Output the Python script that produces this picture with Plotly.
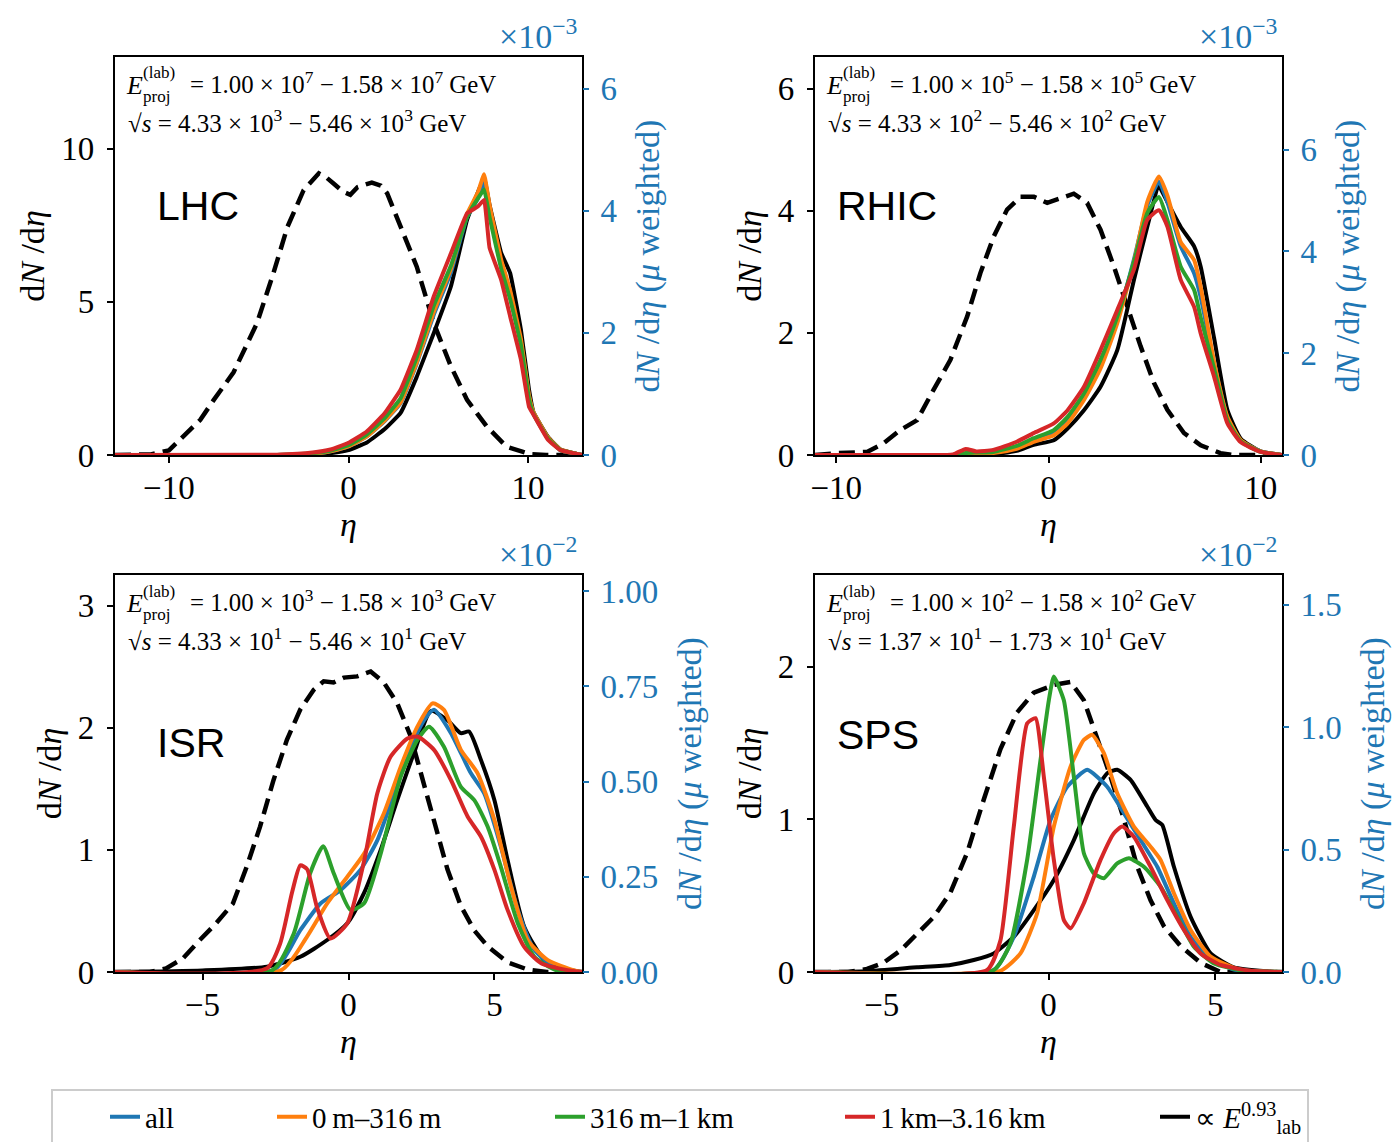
import plotly.graph_objects as go

W, H = 1394, 1142
SERIF = "Liberation Serif, Times New Roman, serif"
SANS = "Liberation Sans, Arial, sans-serif"
BLUE, ORANGE, GREEN, RED, BLACK = "#1f77b4", "#ff7f0e", "#2ca02c", "#d62728", "black"

# ---------------- LHC ----------------
lhc_eta_dash = [-13, -11, -10, -9, -8.25, -7.5, -6.4, -5.1, -4.2, -3.4, -2.5, -1.65, -1.2, -0.8, -0.3, 0.1,
                0.5, 1.3, 1.8, 2.15, 2.9, 3.8, 4.75, 5.7, 6.6, 7.7, 8.8, 10.1, 11, 13]
lhc_dash = [0, 0.02, 0.15, 0.7, 1.15, 1.8, 2.7, 4.3, 5.9, 7.45, 8.65, 9.2, 9.05, 8.85, 8.6, 8.5,
            8.75, 8.9, 8.8, 8.55, 7.45, 6.15, 4.3, 2.9, 1.8, 0.93, 0.27, 0.03, 0, 0]
lhc_eta = [-13, -4, -2, -1, 0, 1, 2, 2.9, 3.8, 4.75, 5.7, 6.6, 7.2, 7.55, 7.85, 8.5, 9.0, 9.6, 10.05, 10.3,
           11.1, 11.8, 13]
lhc_all = [0, 0, 0.02, 0.06, 0.14, 0.3, 0.55, 0.85, 1.5, 2.3, 2.99, 3.9, 4.2, 4.48, 4.0, 3.1, 2.65, 1.85, 0.95,
           0.68, 0.28, 0.08, 0]
lhc_near = [0, 0, 0.02, 0.06, 0.14, 0.3, 0.56, 0.86, 1.52, 2.35, 3.05, 3.95, 4.3, 4.6, 4.1, 3.2, 2.7, 1.9, 0.98,
            0.7, 0.29, 0.09, 0]
lhc_mid = [0, 0, 0.03, 0.07, 0.16, 0.33, 0.6, 0.93, 1.6, 2.45, 3.1, 3.9, 4.2, 4.35, 3.9, 3.05, 2.55, 1.8, 0.92,
           0.67, 0.27, 0.08, 0]
lhc_far = [0, 0.005, 0.04, 0.09, 0.2, 0.38, 0.68, 1.07, 1.72, 2.6, 3.3, 3.96, 4.07, 4.18, 3.4, 2.87, 2.27, 1.56,
           0.79, 0.66, 0.25, 0.08, 0]
lhc_elab = [0, 0, 0.01, 0.03, 0.08, 0.2, 0.42, 0.69, 1.28, 2.0, 2.76, 3.85, 4.3, 4.54, 4.1, 3.31, 2.98, 2.05,
            1.07, 0.7, 0.3, 0.09, 0]

# ---------------- RHIC ----------------
rhic_eta_dash = [-11, -10, -8.55, -7.77, -6.98, -6.19, -5.41, -4.62, -3.83, -3.21, -2.58, -1.95, -1.32, -0.69,
                 -0.06, 0.57, 1.19, 1.82, 2.45, 3.08, 3.71, 4.34, 4.97, 5.6, 6.38, 7.17, 8.1, 8.7, 11]
rhic_dash = [0, 0.03, 0.05, 0.19, 0.41, 0.57, 1.07, 1.56, 2.27, 2.98, 3.58, 4.02, 4.23, 4.23,
             4.13, 4.21, 4.28, 4.13, 3.69, 3.09, 2.43, 1.78, 1.18, 0.74, 0.36, 0.16, 0.03, 0, 0]
rhic_eta = [-11, -6, -4.5, -3.9, -3.4, -2.6, -1.5, -0.7, 0.25, 0.9, 1.67, 2.45, 3.24, 4.03, 4.65, 5.2, 5.6,
            6.23, 6.86, 7.17, 7.8, 8.43, 9.06, 10, 11]
rhic_all = [0, 0, 0, 0.02, 0.03, 0.05, 0.15, 0.29, 0.44, 0.69, 1.15, 1.8, 2.65, 3.85, 4.9, 5.37, 4.97,
            4.1, 3.57, 3.1, 1.8, 0.72, 0.28, 0.07, 0]
rhic_near = [0, 0, 0, 0.01, 0.02, 0.04, 0.12, 0.26, 0.39, 0.62, 1.08, 1.7, 2.59, 3.8, 4.97, 5.47, 5.1,
             4.18, 3.83, 3.3, 1.83, 0.75, 0.29, 0.07, 0]
rhic_mid = [0, 0, 0.0, 0.04, 0.05, 0.06, 0.18, 0.33, 0.49, 0.75, 1.21, 1.87, 2.72, 3.8, 4.75, 5.07, 4.62,
            3.7, 3.24, 2.7, 1.7, 0.68, 0.27, 0.06, 0]
rhic_far = [0, 0, 0.01, 0.12, 0.07, 0.1, 0.26, 0.43, 0.62, 0.88, 1.34, 2.06, 2.85, 3.65, 4.62, 4.81, 4.49,
            3.44, 2.91, 2.39, 1.54, 0.62, 0.25, 0.06, 0]
rhic_elab = [0, 0, 0, 0, 0.01, 0.02, 0.08, 0.2, 0.29, 0.52, 0.88, 1.34, 2.06, 3.45, 4.48, 5.27, 4.97,
             4.48, 4.1, 3.7, 2.3, 0.88, 0.32, 0.07, 0]

# ---------------- ISR ----------------
isr_eta_dash = [-8, -6.8, -6.25, -5.68, -5.1, -4.53, -3.96, -3.49, -3.03, -2.57, -2.11, -1.65, -1.19, -0.85,
                -0.51, -0.16, 0.3, 0.76, 1.21, 1.67, 2.13, 2.47, 2.93, 3.39, 3.85, 4.31, 4.77, 5.45, 6.14, 6.8, 8]
isr_dash = [0, 0.0, 0.03, 0.11, 0.26, 0.40, 0.56, 0.86, 1.19, 1.57, 1.90, 2.15, 2.31, 2.38,
            2.37, 2.41, 2.42, 2.46, 2.37, 2.20, 1.93, 1.63, 1.22, 0.84, 0.54, 0.34, 0.21, 0.08, 0.02, 0.0, 0]
isr_all_eta = [-8, -2.55, -1.65, -0.96, -0.27, 0.41, 0.99, 1.56, 2.13, 2.59, 2.93, 3.51, 4.19, 4.65, 5.22,
               5.8, 6.37, 7.1, 8]
isr_all = [0, 0.005, 0.11, 0.18, 0.215, 0.268, 0.346, 0.469, 0.591, 0.661, 0.688, 0.627, 0.522, 0.469, 0.329,
           0.163, 0.058, 0.01, 0]
isr_near_eta = [-8, -2.3, -1.42, -0.73, -0.04, 0.53, 1.21, 1.79, 2.36, 2.88, 3.27, 3.85, 4.42, 5.0, 5.57,
                6.14, 6.83, 7.7, 8]
isr_near = [0, 0.005, 0.093, 0.18, 0.25, 0.31, 0.416, 0.539, 0.644, 0.705, 0.688, 0.583, 0.522, 0.399, 0.224,
            0.084, 0.031, 0.005, 0]
isr_mid_eta = [-8, -2.6, -1.88, -1.31, -0.87, -0.51, 0.07, 0.53, 1.1, 1.79, 2.36, 2.76, 3.27, 3.85, 4.31,
               4.77, 5.22, 5.8, 6.37, 7.1, 8]
isr_mid = [0, 0.005, 0.10, 0.26, 0.33, 0.26, 0.163, 0.18, 0.31, 0.513, 0.609, 0.644, 0.591, 0.486, 0.451,
           0.381, 0.276, 0.128, 0.04, 0.005, 0]
isr_far_eta = [-8, -2.79, -2.34, -1.93, -1.65, -1.42, -1.08, -0.62, -0.04, 0.53, 0.99, 1.44, 2.02, 2.36, 2.93,
               3.51, 4.08, 4.54, 5.0, 5.45, 6.02, 6.6, 7.5, 8]
isr_far = [0, 0.01, 0.075, 0.21, 0.28, 0.27, 0.17, 0.088, 0.128, 0.29, 0.47, 0.565, 0.613, 0.618, 0.583,
           0.504, 0.408, 0.355, 0.268, 0.163, 0.066, 0.023, 0.005, 0]
isr_elab_eta = [-8, -5, -2.79, -1.65, -0.73, -0.04, 0.53, 1.1, 1.67, 2.24, 2.82, 3.39, 3.85, 4.13, 4.54, 5.0,
                5.45, 6.02, 6.72, 7.5, 8]
isr_elab = [0, 0.004, 0.014, 0.04, 0.084, 0.128, 0.207, 0.32, 0.451, 0.574, 0.685, 0.661, 0.627, 0.631,
            0.556, 0.451, 0.294, 0.119, 0.031, 0.007, 0]

# ---------------- SPS ----------------
sps_eta_dash = [-7, -6, -5.44, -4.95, -4.44, -3.94, -3.44, -2.94, -2.44, -1.94, -1.44, -0.94, -0.44, 0.16,
                0.66, 1.06, 1.46, 1.86, 2.26, 2.66, 3.06, 3.46, 3.96, 4.56, 5.16, 7]
sps_dash = [0, 0.0, 0.02, 0.06, 0.14, 0.25, 0.36, 0.52, 0.78, 1.13, 1.46, 1.70, 1.83, 1.88,
            1.90, 1.78, 1.54, 1.28, 1.0, 0.69, 0.47, 0.30, 0.17, 0.06, 0.0, 0]
sps_all_eta = [-7, -1.64, -1.04, -0.44, 0.06, 0.56, 1.16, 1.76, 2.26, 2.76, 3.26, 3.76, 4.26, 4.76, 5.56, 7]
sps_all = [0, 0.008, 0.144, 0.39, 0.621, 0.757, 0.826, 0.757, 0.649, 0.539, 0.43, 0.28, 0.144, 0.063, 0.01, 0]
sps_near_eta = [-7, -1.44, -0.84, -0.34, 0.16, 0.66, 1.06, 1.31, 1.66, 2.06, 2.56, 3.06, 3.36, 3.76, 4.26,
                4.86, 5.76, 7]
sps_near = [0, 0.005, 0.076, 0.24, 0.594, 0.839, 0.948, 0.969, 0.894, 0.73, 0.594, 0.512, 0.458, 0.322,
            0.172, 0.063, 0.008, 0]
sps_mid_eta = [-7, -1.64, -1.14, -0.64, -0.24, 0.01, 0.16, 0.46, 0.76, 1.06, 1.36, 1.66, 2.06, 2.41, 2.86,
               3.36, 3.86, 4.36, 4.96, 5.86, 7]
sps_mid = [0, 0.008, 0.117, 0.458, 0.866, 1.11, 1.207, 1.11, 0.798, 0.485, 0.403, 0.383, 0.444, 0.465, 0.43,
           0.349, 0.226, 0.103, 0.035, 0.005, 0]
sps_far_eta = [-7, -1.84, -1.44, -1.04, -0.64, -0.39, -0.14, 0.16, 0.46, 0.66, 1.06, 1.56, 1.96, 2.21, 2.56,
               3.06, 3.56, 4.06, 4.56, 5.16, 6.06, 7]
sps_far = [0, 0.008, 0.13, 0.594, 1.016, 1.037, 0.798, 0.458, 0.212, 0.178, 0.281, 0.458, 0.567, 0.594,
           0.553, 0.43, 0.294, 0.172, 0.076, 0.029, 0.005, 0]
sps_elab_eta = [-7, -5.44, -3.94, -2.94, -2.24, -1.64, -1.04, -0.44, 0.16, 0.76, 1.36, 1.76, 2.06, 2.46, 2.96,
                3.21, 3.41, 3.76, 4.26, 4.86, 5.56, 6.56, 7]
sps_elab = [0, 0.003, 0.019, 0.029, 0.049, 0.076, 0.144, 0.253, 0.376, 0.539, 0.73, 0.812, 0.826, 0.785,
            0.676, 0.621, 0.601, 0.43, 0.226, 0.076, 0.019, 0.003, 0]

# ---------------- labels ----------------
panel_names = ["LHC", "RHIC", "ISR", "SPS"]
e_lo = ["1.00", "1.00", "1.00", "1.00"]
e_hi = ["1.58", "1.58", "1.58", "1.58"]
e_exp = ["7", "5", "3", "2"]
s_lo = ["4.33", "4.33", "4.33", "1.37"]
s_hi = ["5.46", "5.46", "5.46", "1.73"]
s_exp = ["3", "2", "1", "1"]
right_exponent = ["−3", "−3", "−2", "−2"]
series_names = ["all", "0\u2009m–316\u2009m", "316\u2009m–1\u2009km", "1\u2009km–3.16\u2009km",
                "∝ <i>E</i><sup>0.93</sup><sub>lab</sub>"]
series_colors = [BLUE, ORANGE, GREEN, RED, BLACK]

panels = [
    dict(eta_dash=lhc_eta_dash, dash=lhc_dash,
         series=[(lhc_eta, lhc_all), (lhc_eta, lhc_near), (lhc_eta, lhc_mid), (lhc_eta, lhc_far), (lhc_eta, lhc_elab)],
         xr=[-13, 13], xt=[-10, 0, 10], yl=[0, 13], ylt=[0, 5, 10], yr=[0, 6.52], yrt=[0, 2, 4, 6], fmt="d",
         smooth=0.3),
    dict(eta_dash=rhic_eta_dash, dash=rhic_dash,
         series=[(rhic_eta, rhic_all), (rhic_eta, rhic_near), (rhic_eta, rhic_mid), (rhic_eta, rhic_far),
                 (rhic_eta, rhic_elab)],
         xr=[-11, 11], xt=[-10, 0, 10], yl=[0, 6.52], ylt=[0, 2, 4, 6], yr=[0, 7.82], yrt=[0, 2, 4, 6], fmt="d",
         smooth=0.5),
    dict(eta_dash=isr_eta_dash, dash=isr_dash,
         series=[(isr_all_eta, isr_all), (isr_near_eta, isr_near), (isr_mid_eta, isr_mid), (isr_far_eta, isr_far),
                 (isr_elab_eta, isr_elab)],
         xr=[-8, 8], xt=[-5, 0, 5], yl=[0, 3.25], ylt=[0, 1, 2, 3], yr=[0, 1.042], yrt=[0, 0.25, 0.5, 0.75, 1.0],
         fmt=".2f", smooth=0.6),
    dict(eta_dash=sps_eta_dash, dash=sps_dash,
         series=[(sps_all_eta, sps_all), (sps_near_eta, sps_near), (sps_mid_eta, sps_mid), (sps_far_eta, sps_far),
                 (sps_elab_eta, sps_elab)],
         xr=[-7, 7], xt=[-5, 0, 5], yl=[0, 2.6], ylt=[0, 1, 2], yr=[0, 1.622], yrt=[0, 0.5, 1.0, 1.5], fmt=".1f",
         smooth=0.5),
]

# panel boxes in pixels (left, right, top, bottom)
boxes = [(115, 582, 57, 455), (815, 1282, 57, 455), (115, 582, 575, 972), (815, 1282, 575, 972)]


def px(x):
    return x / W


def py(y):
    return 1 - y / H


fig = go.Figure()
layout = dict(width=W, height=H, margin=dict(l=0, r=0, t=0, b=0, pad=0, autoexpand=False),
              paper_bgcolor="white", plot_bgcolor="white", showlegend=True)
annotations = []
tick_font = dict(family=SERIF, size=33, color="black")
title_font = dict(family=SERIF, size=34, color="black")

for i, p in enumerate(panels):
    xid = "x" if i == 0 else f"x{i + 1}"
    yl_id = "y" if i == 0 else f"y{2 * i + 1}"
    yr_id = f"y{2 * i + 2}"
    l, r, t, b = boxes[i]
    xkey = "xaxis" if i == 0 else f"xaxis{i + 1}"
    ylkey = "yaxis" if i == 0 else f"yaxis{2 * i + 1}"
    yrkey = f"yaxis{2 * i + 2}"

    layout[xkey] = dict(domain=[px(l), px(r)], anchor=yl_id, range=p["xr"], tickvals=p["xt"],
                        showline=True, linewidth=2.2, linecolor="black", mirror=True, ticks="outside",
                        ticklen=6, tickwidth=2, tickcolor="black", showgrid=False, zeroline=False,
                        tickfont=tick_font, ticklabelstandoff=-4,
                        title=dict(text="<i>η</i>", font=title_font, standoff=6))
    layout[ylkey] = dict(domain=[py(b), py(t)], anchor=xid, range=p["yl"], tickvals=p["ylt"],
                         showline=True, linewidth=2.2, linecolor="black", mirror=True, ticks="outside",
                         ticklen=6, tickwidth=2, tickcolor="black", showgrid=False, zeroline=False,
                         tickfont=tick_font, ticklabelstandoff=6,
                         title=dict(text="d<i>N</i> /d<i>η</i>", font=title_font, standoff=6))
    layout[yrkey] = dict(overlaying=yl_id, anchor=xid, side="right", range=p["yr"], tickvals=p["yrt"],
                         tickformat=p["fmt"], showline=False, ticks="outside", ticklen=6, tickwidth=2,
                         tickcolor=BLUE, showgrid=False, zeroline=False,
                         tickfont=dict(family=SERIF, size=33, color=BLUE), ticklabelstandoff=5,
                         title=dict(text="d<i>N</i> /d<i>η</i> (<i>μ</i> weighted)",
                                    font=dict(family=SERIF, size=34, color=BLUE), standoff=19))

    # dashed reference curve (left axis)
    fig.add_trace(go.Scatter(x=p["eta_dash"], y=p["dash"], mode="lines", xaxis=xid, yaxis=yl_id,
                             line=dict(color="black", width=4.5, dash="16px,8px"), showlegend=False,
                             hoverinfo="skip"))
    # weighted curves (right axis); black first so colours sit on top
    order = [4, 0, 1, 2, 3]
    for k in order:
        ex, ey = p["series"][k]
        show = i == 0
        leg = "legend" if k == 0 else f"legend{k + 1}"
        fig.add_trace(go.Scatter(x=ex, y=ey, mode="lines", xaxis=xid, yaxis=yr_id, name=series_names[k],
                                 line=dict(color=series_colors[k], width=4, shape="spline",
                                           smoothing=p["smooth"]),
                                 showlegend=show, legend=leg))

    # text annotations
    dx = l - 115
    dy = t - 57
    annotations += [
        dict(x=px(124 + dx), y=py(85 + dy), xref="paper", yref="paper", text="<i>E</i>", showarrow=False,
             xanchor="left", yanchor="middle", font=dict(family=SERIF, size=26, color="black")),
        dict(x=px(141 + dx), y=py(73 + dy), xref="paper", yref="paper", text="(lab)", showarrow=False,
             xanchor="left", yanchor="middle", font=dict(family=SERIF, size=17, color="black")),
        dict(x=px(141 + dx), y=py(96 + dy), xref="paper", yref="paper", text="proj", showarrow=False,
             xanchor="left", yanchor="middle", font=dict(family=SERIF, size=17, color="black")),
        dict(x=px(188 + dx), y=py(83 + dy), xref="paper", yref="paper",
             text=f"= {e_lo[i]} × 10<sup>{e_exp[i]}</sup> − {e_hi[i]} × 10<sup>{e_exp[i]}</sup> GeV",
             showarrow=False, xanchor="left", yanchor="middle",
             font=dict(family=SERIF, size=24.8, color="black")),
        dict(x=px(126 + dx), y=py(121 + dy), xref="paper", yref="paper",
             text=f"√<i>s</i> = {s_lo[i]} × 10<sup>{s_exp[i]}</sup> − {s_hi[i]} × 10<sup>{s_exp[i]}</sup> GeV",
             showarrow=False, xanchor="left", yanchor="middle",
             font=dict(family=SERIF, size=25, color="black")),
        dict(x=px(580 + dx), y=py(34 + dy), xref="paper", yref="paper",
             text=f"×10<sup>{right_exponent[i]}</sup>", showarrow=False, xanchor="right", yanchor="middle",
             font=dict(family=SERIF, size=34, color=BLUE)),
    ]
    label_y = [206, 206, 743, 735][i]
    label_x = [155, 835, 155, 835][i]
    annotations.append(dict(x=px(label_x), y=py(label_y), xref="paper", yref="paper", text=panel_names[i],
                            showarrow=False, xanchor="left", yanchor="middle",
                            font=dict(family=SANS, size=41, color="black")))

layout["annotations"] = annotations

# legend: one legend per entry to reproduce the spread-out row
leg_text_x = [145, 312, 590, 880, 1195]
for k in range(5):
    key = "legend" if k == 0 else f"legend{k + 1}"
    layout[key] = dict(x=px(leg_text_x[k] - 40), y=py(1117), xanchor="left", yanchor="middle",
                       bgcolor="rgba(0,0,0,0)", borderwidth=0,
                       font=dict(family=SERIF, size=29, color="black"))

layout["shapes"] = [dict(type="rect", xref="paper", yref="paper", x0=px(52), x1=px(1308), y0=py(1160),
                         y1=py(1090), line=dict(color="#cccccc", width=2), fillcolor="white", layer="below")]

fig.update_layout(**layout)
fig.write_html("out.html")
